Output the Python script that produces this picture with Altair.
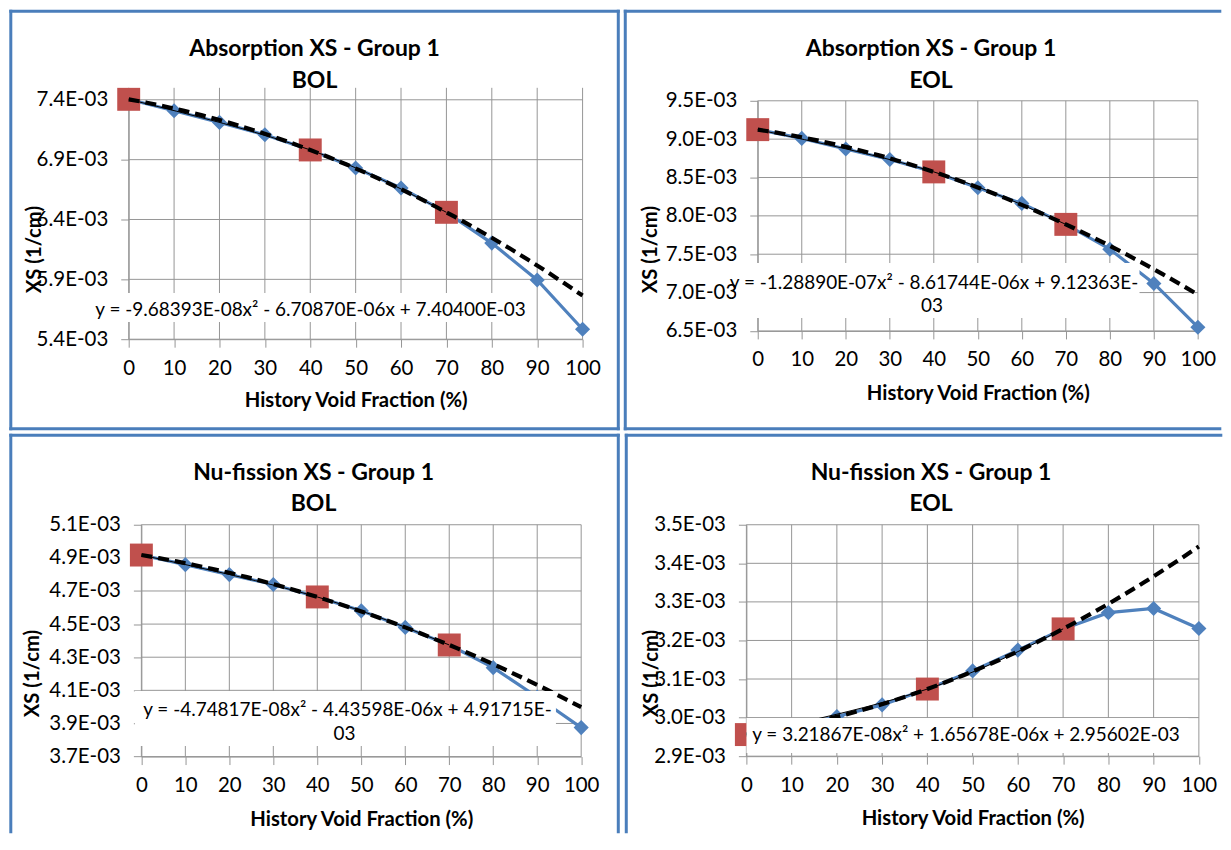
import altair as alt
import pandas as pd

# ---------------- data (cross sections in units of 1E-03 1/cm) ----------------
x_void = [0, 10, 20, 30, 40, 50, 60, 70, 80, 90, 100]
x_ticks = [0, 10, 20, 30, 40, 50, 60, 70, 80, 90, 100]

abs_bol = [7.404, 7.308, 7.211, 7.108, 6.981, 6.830, 6.663, 6.460, 6.203, 5.895, 5.483]
abs_eol = [9.124, 9.010, 8.872, 8.734, 8.573, 8.366, 8.162, 7.889, 7.565, 7.119, 6.548]
nuf_bol = [4.917, 4.859, 4.799, 4.739, 4.664, 4.580, 4.480, 4.374, 4.237, 4.060, 3.875]
nuf_eol = [2.956, 2.975, 3.003, 3.033, 3.074, 3.121, 3.175, 3.230, 3.272, 3.283, 3.231]

red_x = [0, 40, 70]
abs_bol_red = [7.404, 6.981, 6.460]
abs_eol_red = [9.124, 8.573, 7.889]
nuf_bol_red = [4.917, 4.664, 4.374]
nuf_eol_red = [2.956, 3.074, 3.230]

ticks_abs_bol = [5.4, 5.9, 6.4, 6.9, 7.4]
ticks_abs_eol = [6.5, 7.0, 7.5, 8.0, 8.5, 9.0, 9.5]
ticks_nuf_bol = [3.7, 3.9, 4.1, 4.3, 4.5, 4.7, 4.9, 5.1]
ticks_nuf_eol = [2.9, 3.0, 3.1, 3.2, 3.3, 3.4, 3.5]

eq_abs_bol = ["y = -9.68393E-08x\u00b2 - 6.70870E-06x + 7.40400E-03"]
eq_abs_eol = ["y = -1.28890E-07x\u00b2 - 8.61744E-06x + 9.12363E-", "03"]
eq_nuf_bol = ["y = -4.74817E-08x\u00b2 - 4.43598E-06x + 4.91715E-", "03"]
eq_nuf_eol = ["y = 3.21867E-08x\u00b2 + 1.65678E-06x + 2.95602E-03"]

# ---------------- styles / layout (page pixel coordinates) ----------------
BLUE = "#4F81BD"
RED = "#C0504D"
BORDER = "#4A7EBB"
GRID = "#969696"
FONT = "Lato"
TICK_FS = 20.5
TITLE_FS = 23
AXTITLE_FS = 20.3
EQ_FS = 19

# area = (x at 0, x at 100, y at top of domain, y at bottom of domain)
# cell = origin of the view group (aligned by the concat layout)
panels = [
    dict(blue=abs_bol, red=abs_bol_red, ticks=ticks_abs_bol, ydom=[5.4, 7.5],
         title=["Absorption XS - Group 1", "BOL"], tx=314, ty=[47, 79],
         area=(127.7, 582.7, 86.3, 338.3), cell=(127.7, 86.3),
         eq=eq_abs_bol, eqpos=[(310, 309)], box=(92, 292, 528, 321),
         ytitle=(33.5, 248), xtitle_y=400,
         border=[(9.5, 9.5, 618.5, 9.5), (9.5, 428, 618.5, 428),
                 (9.5, 9.5, 9.5, 428), (618.5, 9.5, 618.5, 428)]),
    dict(blue=abs_eol, red=abs_eol_red, ticks=ticks_abs_eol, ydom=[6.5, 9.5],
         title=["Absorption XS - Group 1", "EOL"], tx=932, ty=[47, 79],
         area=(758.3, 1199.5, 99.3, 330.0), cell=(758.3, 86.3),
         eq=eq_abs_eol, eqpos=[(935, 282), (933, 305)], box=(737, 262, 1141, 317),
         ytitle=(651, 248), xtitle_y=393,
         border=[(625.5, 9.5, 1221.5, 9.5), (625.5, 428, 1221.5, 428),
                 (625.5, 9.5, 625.5, 428)]),
    dict(blue=nuf_bol, red=nuf_bol_red, ticks=ticks_nuf_bol, ydom=[3.7, 5.1],
         title=["Nu-fission XS - Group 1", "BOL"], tx=313, ty=[472, 504],
         area=(140.4, 581.3, 524.3, 756.7), cell=(127.7, 524.3),
         eq=eq_nuf_bol, eqpos=[(347, 710), (344, 734)], box=(134, 691, 556, 746),
         ytitle=(31.6, 673), xtitle_y=820,
         border=[(9.5, 434.5, 618.5, 434.5), (9.5, 434.5, 9.5, 832),
                 (618.5, 434.5, 618.5, 832)]),
    dict(blue=nuf_eol, red=nuf_eol_red, ticks=ticks_nuf_eol, ydom=[2.9, 3.5],
         title=["Nu-fission XS - Group 1", "EOL"], tx=931, ty=[472, 504],
         area=(745.9, 1199.5, 524.3, 756.3), cell=(745.9, 524.3),
         eq=eq_nuf_eol, eqpos=[(966, 735.5)], box=(746, 718, 1189, 753),
         ytitle=(651, 673), xtitle_y=819,
         border=[(625.5, 434.5, 1221.5, 434.5), (625.5, 434.5, 625.5, 832)]),
]

anno = pd.DataFrame({"k": [0]})


def make_panel(p):
    x0, x1, yt, yb = p["area"]
    cx, cy = p["cell"]
    w = x1 - cx
    h = yb - cy
    blue = pd.DataFrame({"x": x_void, "y": p["blue"]})
    red = pd.DataFrame({"x": red_x, "y": p["red"]})
    vgrid = pd.DataFrame({"x": x_ticks})
    hgrid = pd.DataFrame({"y": p["ticks"]})

    X = alt.X("x:Q", scale=alt.Scale(domain=[0, 100], nice=False,
                                     range=[x0 - cx, x1 - cx]),
              axis=alt.Axis(values=x_ticks, title="History Void Fraction (%)",
                            grid=False,
                            titleY=p["xtitle_y"] - yb, titleBaseline="middle"))
    Y = alt.Y("y:Q", scale=alt.Scale(domain=p["ydom"], nice=False, zero=False,
                                     range=[yb - cy, yt - cy]),
              axis=alt.Axis(values=p["ticks"], grid=False, offset=-(x0 - cx),
                            labelExpr="format(datum.value, '.1f') + 'E-03'",
                            title="XS (1/cm)", titleAngle=270,
                            titleX=p["ytitle"][0] - x0, titleY=p["ytitle"][1] - cy,
                            titleAlign="center", titleBaseline="middle"))

    layers = [
        alt.Chart(vgrid).mark_rule(color=GRID, strokeWidth=1).encode(
            x=X, y=alt.value(yt - cy), y2=alt.value(yb - cy)),
        alt.Chart(hgrid).mark_rule(color=GRID, strokeWidth=1).encode(
            y=Y, x=alt.value(x0 - cx), x2=alt.value(x1 - cx)),
        alt.Chart(blue).mark_line(color=BLUE, strokeWidth=3.2).encode(x=X, y=Y),
        alt.Chart(blue).mark_point(shape="diamond", size=230, filled=True,
                                   color=BLUE, opacity=1).encode(x=X, y=Y),
        alt.Chart(red).mark_point(shape="square", size=529, filled=True,
                                  color=RED, opacity=1).encode(x=X, y=Y),
        alt.Chart(red).mark_line(color="black", strokeWidth=1,
                                 interpolate="natural").encode(x=X, y=Y),
        alt.Chart(red).transform_regression("x", "y", method="poly", order=2,
                                            extent=[0, 100])
        .mark_line(color="black", strokeWidth=4.2, strokeDash=[11, 6]).encode(x=X, y=Y),
    ]
    bx1, by1, bx2, by2 = p["box"]
    layers.append(alt.Chart(anno).mark_rect(color="white").encode(
        x=alt.value(bx1 - cx), x2=alt.value(bx2 - cx),
        y=alt.value(by1 - cy), y2=alt.value(by2 - cy)))
    for txt, (tx, ty) in zip(p["eq"], p["eqpos"]):
        layers.append(alt.Chart(anno).mark_text(
            text=txt, font=FONT, fontSize=EQ_FS, color="black",
            align="center", baseline="middle").encode(
            x=alt.value(tx - cx), y=alt.value(ty - cy)))
    for txt, ty in zip(p["title"], p["ty"]):
        layers.append(alt.Chart(anno).mark_text(
            text=txt, font=FONT, fontSize=TITLE_FS, fontWeight="bold", color="black",
            align="center", baseline="middle").encode(
            x=alt.value(p["tx"] - cx), y=alt.value(ty - cy)))
    for (bx, by, bx2_, by2_) in p["border"]:
        layers.append(alt.Chart(anno).mark_rule(
            color=BORDER, strokeWidth=3, strokeCap="square").encode(
            x=alt.value(bx - cx), x2=alt.value(bx2_ - cx),
            y=alt.value(by - cy), y2=alt.value(by2_ - cy)))
    return alt.layer(*layers).properties(width=w, height=h)


c = [make_panel(p) for p in panels]
chart = alt.vconcat(
    alt.hconcat(c[0], c[1], spacing=2.6),
    alt.hconcat(c[2], c[3], spacing=3.2),
    spacing=2,
).properties(padding=0).configure_view(strokeWidth=0).configure_axis(
    domainColor=GRID, domainWidth=1,
    tickColor=GRID, tickSize=8, tickWidth=1,
    labelFont=FONT, labelFontSize=TICK_FS, labelColor="black", labelPadding=13,
    labelFlush=False, labelOverlap=False,
    titleFont=FONT, titleFontSize=AXTITLE_FS, titleFontWeight="bold", titleColor="black",
).configure_axisX(labelPadding=11)

chart.save("out.html", embed_options={"renderer": "svg", "actions": False})
